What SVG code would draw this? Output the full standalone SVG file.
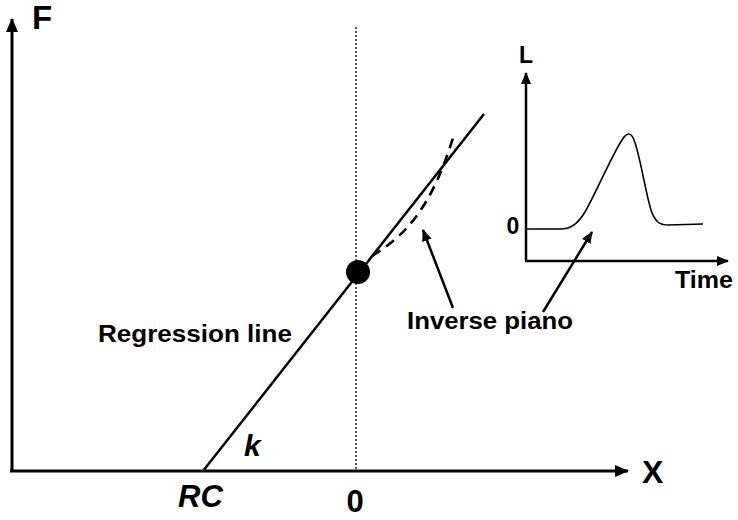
<svg xmlns="http://www.w3.org/2000/svg" width="738" height="520" viewBox="0 0 738 520">
<style>
.t{font-family:"Liberation Sans",Arial,sans-serif;font-weight:bold;fill:#000}
.ax{stroke:#000;stroke-width:3;fill:none}
.ln{stroke:#000;stroke-width:2.5;fill:none}
</style>
<defs>
<marker id="ah" markerWidth="12" markerHeight="10" refX="11" refY="5" orient="auto" markerUnits="userSpaceOnUse">
<path d="M0,0 L12,5 L0,10 Z" fill="#000"/>
</marker>
<marker id="ah2" markerWidth="14" markerHeight="12" refX="13" refY="6" orient="auto" markerUnits="userSpaceOnUse">
<path d="M0,0 L14,6 L0,12 Z" fill="#000"/>
</marker>
</defs>
<rect width="738" height="520" fill="#fff"/>
<g id="connectors">
<line class="ax" x1="12" y1="471" x2="12" y2="19" marker-end="url(#ah2)"/>
<line class="ax" x1="10" y1="471" x2="628" y2="471" marker-end="url(#ah2)"/>
<line x1="356" y1="27" x2="356" y2="470" stroke="#000" stroke-width="1.3" stroke-dasharray="2,2"/>
<line class="ln" x1="203" y1="471" x2="484" y2="114"/>
<path d="M372,256 C408,234 432,205 453,138" stroke="#000" stroke-width="2.6" fill="none" stroke-dasharray="10,7"/>
<line class="ln" x1="453" y1="308" x2="423" y2="230" marker-end="url(#ah)"/>
<line class="ln" x1="543" y1="312" x2="592" y2="232" marker-end="url(#ah)"/>
</g>
<g id="dot"><circle cx="358" cy="272" r="12" fill="#000"/></g>
<g id="inset">
<line class="ln" x1="526" y1="261" x2="526" y2="73" marker-end="url(#ah)"/>
<line class="ln" x1="525" y1="261" x2="728" y2="261" marker-end="url(#ah)"/>
<path d="M527,229 L560,229 C572,229 578,223 585,212 C595,195 612,155 622,140 C627,132 631,132 634,140 C640,155 645,190 651,210 C655,222 660,225 668,225 L703,224" stroke="#000" stroke-width="1.6" fill="none"/>
<text class="t" x="526" y="63" font-size="23" text-anchor="middle">L</text>
<text class="t" x="513" y="234" font-size="23" text-anchor="middle">0</text>
<text class="t" x="675" y="288" font-size="24" textLength="58" lengthAdjust="spacingAndGlyphs">Time</text>
</g>
<g id="labels">
<text class="t" x="32" y="29" font-size="33">F</text>
<text class="t" x="642" y="483" font-size="32">X</text>
<text class="t" x="355" y="512" font-size="31" text-anchor="middle">0</text>
<text class="t" x="178" y="507" font-size="31" font-style="italic">RC</text>
<text class="t" x="244" y="456" font-size="30" font-style="italic">k</text>
<text class="t" x="98" y="342" font-size="23" textLength="194" lengthAdjust="spacingAndGlyphs">Regression line</text>
<text class="t" x="407" y="329" font-size="23" textLength="166" lengthAdjust="spacingAndGlyphs">Inverse piano</text>
</g>
</svg>
